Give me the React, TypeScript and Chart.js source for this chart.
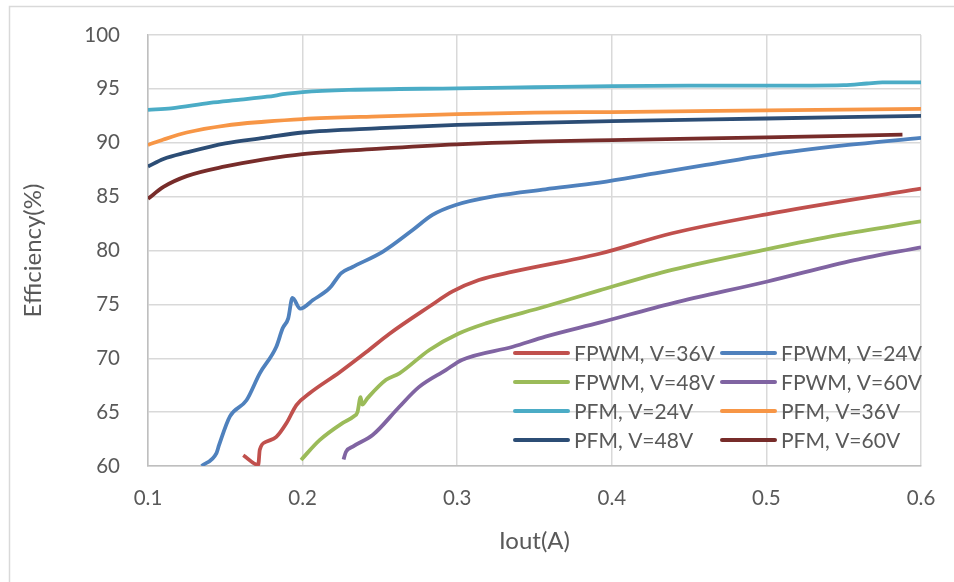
import React, { useEffect, useRef } from "react";
import { Chart, registerables } from "chart.js";

Chart.register(...registerables);

// ---------- tick labels ----------
const xTicks = [0.1, 0.2, 0.3, 0.4, 0.5, 0.6];
const yTicks = [60, 65, 70, 75, 80, 85, 90, 95, 100];

// ---------- series (Iout in A, efficiency in %) ----------
const fpwm36X = [0.1616, 0.1713, 0.1723, 0.1766, 0.183, 0.1895, 0.196, 0.2045, 0.224, 0.241, 0.256, 0.282, 0.297, 0.314, 0.336, 0.392, 0.439, 0.5, 0.6];
const fpwm36Y = [61.0, 60.1, 61.5, 62.26, 62.7, 63.96, 65.66, 66.75, 68.7, 70.55, 72.25, 74.8, 76.2, 77.26, 78.03, 79.7, 81.6, 83.36, 85.75];

const fpwm24X = [0.1347, 0.1443, 0.146, 0.153, 0.1637, 0.1723, 0.183, 0.1871, 0.1907, 0.1934, 0.1985, 0.2067, 0.2174, 0.225, 0.232, 0.252, 0.2712, 0.284, 0.299, 0.325, 0.357, 0.392, 0.428, 0.461, 0.5, 0.55, 0.6];
const fpwm24Y = [60.0, 61.2, 61.95, 64.6, 66.1, 68.6, 71.07, 72.78, 73.7, 75.6, 74.6, 75.4, 76.5, 77.9, 78.45, 79.9, 81.9, 83.3, 84.22, 85.06, 85.68, 86.3, 87.16, 87.94, 88.86, 89.75, 90.45];

const fpwm48X = [0.199, 0.211, 0.226, 0.233, 0.2355, 0.2375, 0.2385, 0.242, 0.254, 0.2626, 0.282, 0.301, 0.3185, 0.357, 0.392, 0.439, 0.5, 0.547, 0.6];
const fpwm48Y = [60.56, 62.4, 64.0, 64.6, 65.0, 66.4, 65.7, 66.3, 68.0, 68.6, 70.77, 72.3, 73.24, 74.8, 76.3, 78.2, 80.1, 81.44, 82.7];

const fpwm60X = [0.2265, 0.228, 0.2325, 0.2455, 0.2626, 0.275, 0.2926, 0.303, 0.336, 0.357, 0.392, 0.439, 0.5, 0.557, 0.6];
const fpwm60Y = [60.6, 61.3, 61.8, 62.9, 65.5, 67.3, 68.9, 69.84, 71.07, 72.0, 73.3, 75.1, 77.1, 79.1, 80.3];

const pfm24X = [0.1, 0.115, 0.14, 0.16, 0.177, 0.19, 0.2, 0.23, 0.3, 0.35, 0.4, 0.45, 0.5, 0.55, 0.565, 0.575, 0.6];
const pfm24Y = [93.05, 93.2, 93.7, 94.0, 94.27, 94.55, 94.7, 94.9, 95.05, 95.15, 95.25, 95.3, 95.3, 95.35, 95.5, 95.6, 95.6];

const pfm36X = [0.1, 0.11, 0.125, 0.15, 0.175, 0.2, 0.25, 0.3, 0.35, 0.4, 0.5, 0.6];
const pfm36Y = [89.8, 90.3, 90.95, 91.6, 91.95, 92.2, 92.45, 92.65, 92.8, 92.85, 93.0, 93.15];

const pfm48X = [0.1, 0.11, 0.125, 0.15, 0.175, 0.2, 0.25, 0.3, 0.35, 0.4, 0.5, 0.6];
const pfm48Y = [87.8, 88.5, 89.1, 89.95, 90.45, 90.95, 91.35, 91.65, 91.85, 92.0, 92.25, 92.5];

const pfm60X = [0.1, 0.11, 0.125, 0.15, 0.175, 0.2, 0.25, 0.3, 0.35, 0.4, 0.5, 0.588];
const pfm60Y = [84.8, 85.9, 86.9, 87.8, 88.45, 88.95, 89.45, 89.85, 90.1, 90.25, 90.5, 90.75];

const seriesLabels = [
  "FPWM, V=36V", "FPWM, V=24V", "FPWM, V=48V", "FPWM, V=60V",
  "PFM, V=24V", "PFM, V=36V", "PFM, V=48V", "PFM, V=60V",
];
const seriesColors = [
  "#C0504D", "#4F81BD", "#9BBB59", "#8064A2",
  "#4BACC6", "#F79646", "#2C4D75", "#772C2A",
];
const seriesX = [fpwm36X, fpwm24X, fpwm48X, fpwm60X, pfm24X, pfm36X, pfm48X, pfm60X];
const seriesY = [fpwm36Y, fpwm24Y, fpwm48Y, fpwm60Y, pfm24Y, pfm36Y, pfm48Y, pfm60Y];

const FONT = "Lato, 'Noto Sans', sans-serif";
const TEXT = "#595959";
const GRID = "#d9d9d9";

const legendPlugin = {
  id: "insideLegend",
  afterDraw(chart: any) {
    const { ctx, chartArea } = chart;
    const colLine = [chartArea.right - 406, chartArea.right - 199];
    const lineLen = 53;
    const textGap = 6;
    const rowY0 = chartArea.bottom - 113;
    const rowStep = 29;
    ctx.save();
    ctx.font = `21px ${FONT}`;
    ctx.fillStyle = TEXT;
    ctx.textBaseline = "middle";
    ctx.textAlign = "left";
    seriesLabels.forEach((lab, i) => {
      const col = i % 2;
      const row = Math.floor(i / 2);
      const y = rowY0 + row * rowStep;
      const x = colLine[col];
      ctx.strokeStyle = seriesColors[i];
      ctx.lineWidth = 4;
      ctx.lineCap = "round";
      ctx.beginPath();
      ctx.moveTo(x, y);
      ctx.lineTo(x + lineLen, y);
      ctx.stroke();
      ctx.fillText(lab, x + lineLen + textGap, y + 1);
    });
    ctx.restore();
  },
};

const framePlugin = {
  id: "outerFrame",
  beforeDraw(chart: any) {
    const { ctx, width, height } = chart;
    ctx.save();
    ctx.strokeStyle = GRID;
    ctx.lineWidth = 1.5;
    ctx.beginPath();
    ctx.moveTo(9.5, height);
    ctx.lineTo(9.5, 6.5);
    ctx.lineTo(width, 6.5);
    ctx.stroke();
    ctx.restore();
  },
};

export default function App() {
  const ref = useRef<HTMLCanvasElement | null>(null);

  useEffect(() => {
    document.body.style.margin = "0";
    if (!ref.current) return;
    const datasets = seriesLabels.map((label, i) => ({
      label,
      data: seriesX[i].map((x, j) => ({ x, y: seriesY[i][j] })),
      borderColor: seriesColors[i],
      backgroundColor: seriesColors[i],
      borderWidth: 3.8,
      pointRadius: 0,
      cubicInterpolationMode: "monotone" as const,
      fill: false,
    }));
    const chart = new Chart(ref.current, {
      type: "line",
      data: { datasets },
      options: {
        animation: false,
        responsive: false,
        layout: { padding: { left: 0, top: 35, right: 33, bottom: 0 } },
        plugins: { legend: { display: false }, tooltip: { enabled: false } },
        scales: {
          x: {
            type: "linear",
            min: xTicks[0],
            max: xTicks[xTicks.length - 1],
            afterBuildTicks: (scale: any) => {
              scale.ticks = xTicks.map((v) => ({ value: v }));
            },
            afterFit: (scale: any) => {
              scale.height = 116;
              scale.paddingLeft = 0;
              scale.paddingRight = 0;
            },
            ticks: {
              callback: (v: any) => Number(v).toFixed(1),
              font: { family: FONT, size: 20.5 },
              color: TEXT,
              padding: 20,
              maxRotation: 0,
            },
            grid: { color: GRID, lineWidth: 1.5, drawTicks: false },
            border: { color: "#bfbfbf", width: 1.5 },
            title: {
              display: true,
              text: "Iout(A)",
              font: { family: FONT, size: 24 },
              color: TEXT,
              padding: { top: 0, bottom: 26 },
            },
          },
          y: {
            type: "linear",
            min: yTicks[0],
            max: yTicks[yTicks.length - 1],
            afterBuildTicks: (scale: any) => {
              scale.ticks = yTicks.map((v) => ({ value: v }));
            },
            afterFit: (scale: any) => {
              scale.width = 148;
              scale.paddingTop = 0;
              scale.paddingBottom = 0;
            },
            ticks: {
              callback: (v: any) => String(v),
              font: { family: FONT, size: 20.5 },
              color: TEXT,
              padding: 28,
            },
            grid: { color: GRID, lineWidth: 1.5, drawTicks: false },
            border: { color: "#bfbfbf", width: 1.5 },
            title: {
              display: true,
              text: "Efficiency(%)",
              font: { family: FONT, size: 24 },
              color: TEXT,
              padding: { top: 19, bottom: 0 },
            },
          },
        },
      },
      plugins: [legendPlugin, framePlugin],
    });
    return () => chart.destroy();
  }, []);

  return (
    <div style={{ width: 954, height: 582, background: "#fff" }}>
      <canvas ref={ref} width={954} height={582} />
    </div>
  );
}
